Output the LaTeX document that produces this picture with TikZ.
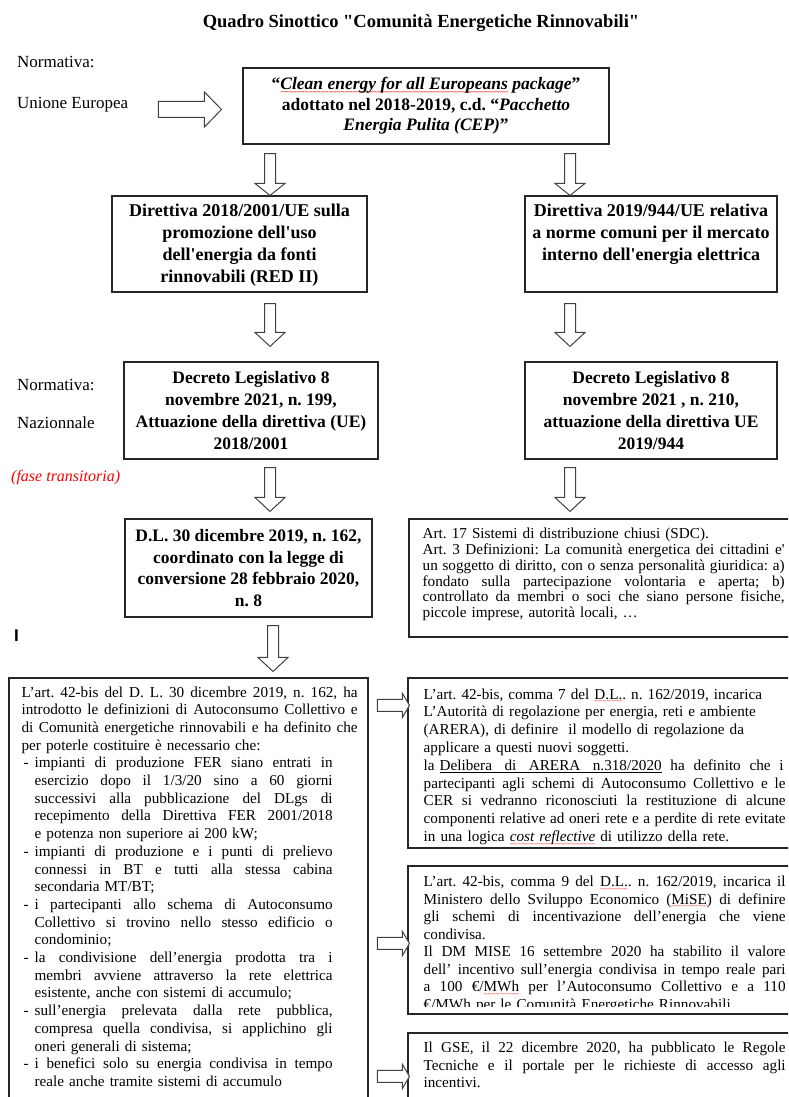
\documentclass[tikz,border=0pt]{standalone}
\usepackage{fontspec}
\setmainfont{Liberation Serif}[Ligatures=TeXOff]
\setsansfont{Liberation Sans}
\usetikzlibrary{calc,positioning}

% red spell-check wave under a word
\newsavebox\rwbox
\newcommand\rw[1]{\leavevmode\sbox\rwbox{#1}%
  \rlap{\raisebox{-4.5pt}[0pt][0pt]{\hbox to \wd\rwbox{\color{red}\xleaders\hbox{\fontsize{7}{7}\selectfont\textasciitilde}\hfill}}}%
  \usebox\rwbox}

% justified lines of the text boxes
\newcommand\fillline[2]{\leavevmode\hbox to #1{\spaceskip=0.25em plus 1fil minus 0.1em\relax #2}}
\newcommand\introline[1]{\fillline{336pt}{#1}}
\newcommand\itemline[1]{\makebox[13pt][l]{\hspace{2pt}-}\fillline{298pt}{#1}}
\newcommand\moreline[1]{\hspace*{13pt}\fillline{298pt}{#1}}
\newcommand\morelast[1]{\hspace*{13pt}#1}
\newcommand\rline[1]{\fillline{362pt}{#1}}

% hollow block arrows between the boxes
\newcommand\blockD[5]{%
  \draw[blockarrow] let \p1=(#1), \p2=(#2) in
    (\x1-#3,\y1) -- (\x1+#3,\y1) -- (\x1+#3,\y2+#5) -- (\x1+#4,\y2+#5) -- (\x1,\y2)
    -- (\x1-#4,\y2+#5) -- (\x1-#3,\y2+#5) -- cycle;}
\newcommand\blockR[5]{%
  \draw[blockarrow] let \p1=(#1), \p2=(#2) in
    (\x1,\y1-#3) -- (\x2-#5,\y1-#3) -- (\x2-#5,\y1-#4) -- (\x2,\y1)
    -- (\x2-#5,\y1+#4) -- (\x2-#5,\y1+#3) -- (\x1,\y1+#3) -- cycle;}

\begin{document}
\frenchspacing
\begin{tikzpicture}[x=1pt, y=-1pt,
    legbox/.style={draw=black!85, line width=1.1pt, inner sep=0pt},
    boldtxt/.style={align=center, font=\bfseries\fontsize{17.5}{22}\selectfont},
    dirtxt/.style={align=center, anchor=north, inner sep=0pt, font=\bfseries\fontsize{18}{22}\selectfont},
    bodytxt/.style={inner sep=0pt, align=left, anchor=north west, font=\fontsize{15.2}{17.7}\selectfont},
    lbl/.style={inner sep=0pt, anchor=west, font=\fontsize{17}{20}\selectfont},
    blockarrow/.style={draw=black!75, line width=1pt, fill=white}]
    \useasboundingbox (0,0) rectangle (788,1097);
    \clip (0,0) rectangle (788,1097);

    \node[font=\bfseries\fontsize{18.5}{22}\selectfont] (title) at (421,23) {Quadro Sinottico "Comunità Energetiche Rinnovabili"};

    % side labels
    \node[lbl] (norm1) at (17,62) {Normativa:};
    \node[lbl] (ue) at (17,105) {Unione Europea};
    \node[lbl] (norm2) at (17,385) {Normativa:};
    \node[lbl] (naz) at (17,423) {Nazionnale};
    \node[inner sep=0pt, anchor=west, text=red, font=\itshape\fontsize{16}{19}\selectfont] (fase) at (11,478) {(fase transitoria)};
    \node[inner sep=0pt, anchor=west, font=\sffamily\bfseries\fontsize{17}{20}\selectfont] (cursor) at (14,636) {I};

    % European level
    \node[legbox, boldtxt, minimum width=366pt, minimum height=76pt, font=\bfseries\fontsize{17.5}{20.5}\selectfont] (top) at (426,106)
        {“\textit{\rw{Clean energy for all Europeans} package}”\\
         adottato nel 2018-2019, c.d. “\textit{Pacchetto}\\
         \textit{Energia Pulita (CEP)}”};
    \node[legbox, minimum width=255pt, minimum height=96pt] (dirL) at (239.5,244) {};
    \node[dirtxt] (dirLtxt) at ([yshift=-5pt]dirL.north)
        {\strut Direttiva 2018/2001/UE sulla\\ promozione dell'uso\\ dell'energia da fonti\\ rinnovabili (RED II)};
    \node[legbox, minimum width=252pt, minimum height=96pt] (dirR) at (651,244) {};
    \node[dirtxt] (dirRtxt) at ([yshift=-5pt]dirR.north)
        {\strut Direttiva 2019/944/UE relativa\\ a norme comuni per il mercato\\ interno dell'energia elettrica};

    % national level
    \node[legbox, boldtxt, minimum width=254pt, minimum height=97pt] (decL) at (251,410.5)
        {Decreto Legislativo 8\\ novembre 2021, n. 199,\\ Attuazione della direttiva (UE)\\ 2018/2001};
    \node[legbox, boldtxt, minimum width=252pt, minimum height=97pt] (decR) at (651,410.5)
        {Decreto Legislativo 8\\ novembre 2021 , n. 210,\\ attuazione della direttiva UE\\ 2019/944};
    \node[legbox, boldtxt, minimum width=247pt, minimum height=98pt, font=\bfseries\fontsize{17.5}{21.5}\selectfont] (dl) at (248.5,568)
        {D.L. 30 dicembre 2019, n. 162,\\ coordinato con la legge di\\ conversione 28 febbraio 2020,\\ n. 8};

    \node[legbox, minimum width=382pt, minimum height=118pt] (art) at (600,578) {};
    \node[bodytxt, text width=364pt, font=\fontsize{15.2}{15.8}\selectfont] (arttxt) at ([shift={(14,9)}]art.north west)
        {\strut Art. 17 Sistemi di distribuzione chiusi (SDC).\\
         \rline{Art. 3 Definizioni: La comunità energetica dei cittadini e'}\\
         \rline{un soggetto di diritto, con o senza personalità giuridica: a)}\\
         \rline{fondato sulla partecipazione volontaria e aperta; b)}\\
         \rline{controllato da membri o soci che siano persone fisiche,}\\
         piccole imprese, autorità locali, …};

    % art. 42-bis
    \node[legbox, minimum width=359pt, minimum height=442pt] (big) at (188.5,899) {};
    \node[bodytxt, text width=340pt] (bigtxt) at ([shift={(13,7)}]big.north west)
        {\strut\introline{L’art. 42-bis del D. L. 30 dicembre 2019, n. 162, ha}\\
         \introline{introdotto le definizioni di Autoconsumo Collettivo e}\\
         \introline{di Comunità energetiche rinnovabili e ha definito che}\\
         per poterle costituire è necessario che:\\
         \itemline{impianti di produzione FER siano entrati in}\\
         \moreline{esercizio dopo il 1/3/20 sino a 60 giorni}\\
         \moreline{successivi alla pubblicazione del DLgs di}\\
         \moreline{recepimento della Direttiva FER 2001/2018}\\
         \morelast{e potenza non superiore ai 200 kW;}\\
         \itemline{impianti di produzione e i punti di prelievo}\\
         \moreline{connessi in BT e tutti alla stessa cabina}\\
         \morelast{secondaria MT/BT;}\\
         \itemline{i partecipanti allo schema di Autoconsumo}\\
         \moreline{Collettivo si trovino nello stesso edificio o}\\
         \morelast{condominio;}\\
         \itemline{la condivisione dell’energia prodotta tra i}\\
         \moreline{membri avviene attraverso la rete elettrica}\\
         \morelast{esistente, anche con sistemi di accumulo;}\\
         \itemline{sull’energia prelevata dalla rete pubblica,}\\
         \moreline{compresa quella condivisa, si applichino gli}\\
         \morelast{oneri generali di sistema;}\\
         \itemline{i benefici solo su energia condivisa in tempo}\\
         \morelast{reale anche tramite sistemi di accumulo}};

    \node[legbox, minimum width=383pt, minimum height=170pt] (r1) at (599.5,763) {};
    \node[bodytxt, text width=364pt, font=\fontsize{15.2}{17.8}\selectfont] (r1txt) at ([shift={(16,9)}]r1.north west)
        {\strut L’art. 42-bis, comma 7 del \rw{D.L.}. n. 162/2019, incarica\\
         L’Autorità di regolazione per energia, reti e ambiente\\
         (ARERA), di definire\ \ il modello di regolazione da\\
         applicare a questi nuovi soggetti.\\
         la \underline{\hbox to 222pt{Delibera\hfil di\hfil ARERA\hfil n.318/2020}}\fillline{122pt}{\ ha definito che i}\\
         \rline{partecipanti agli schemi di Autoconsumo Collettivo e le}\\
         \rline{CER si vedranno riconosciuti la restituzione di alcune}\\
         \rline{componenti relative ad oneri rete e a perdite di rete evitate}\\
         in una logica \textit{\rw{cost reflective}} di utilizzo della rete.};

    \node[legbox, minimum width=383pt, minimum height=148pt] (r2) at (599.5,940) {};
    \begin{scope}
        \clip (r2.north west) rectangle ([yshift=8pt]r2.south east);
        \node[bodytxt, text width=364pt, font=\fontsize{15.2}{17.5}\selectfont] (r2txt) at ([shift={(16,9)}]r2.north west)
            {\strut\rline{L’art. 42-bis, comma 9 del \rw{D.L.}. n. 162/2019, incarica il}\\
             \rline{Ministero dello Sviluppo Economico (\rw{MiSE}) di definire}\\
             \rline{gli schemi di incentivazione dell’energia che viene}\\
             condivisa.\\
             \rline{Il DM MISE 16 settembre 2020 ha stabilito il valore}\\
             \rline{dell’ incentivo sull’energia condivisa in tempo reale pari}\\
             \rline{a 100 €/\rw{MWh} per l’Autoconsumo Collettivo e a 110}\\
             €/MWh per le Comunità Energetiche Rinnovabili};
    \end{scope}

    \node[legbox, minimum width=383pt, minimum height=87pt] (r3) at (599.5,1076.5) {};
    \node[bodytxt, text width=364pt, font=\fontsize{15.2}{17.5}\selectfont] (r3txt) at ([shift={(16,8)}]r3.north west)
        {\strut\rline{Il GSE, il 22 dicembre 2020, ha pubblicato le Regole}\\
         \rline{Tecniche e il portale per le richieste di accesso agli}\\
         incentivi.};

    % arrows
    \coordinate (colL) at (270,0);
    \coordinate (colR) at (570,0);
    \coordinate (colD) at (273,0);
    \blockR{$(top.west)+(-84,3.5)$}{$(top.west)+(-21,3.5)$}{8pt}{17.5pt}{17pt}
    \blockD{$(top.south -| colL)+(0,9)$}{dirL.north -| colL}{5.5pt}{15pt}{12pt}
    \blockD{$(top.south -| colR)+(0,9)$}{dirR.north -| colR}{5.5pt}{15pt}{12pt}
    \blockD{$(dirL.south -| colL)+(0,11)$}{$(decL.north -| colL)+(0,-15)$}{5.5pt}{15pt}{14pt}
    \blockD{$(dirR.south -| colR)+(0,11)$}{$(decR.north -| colR)+(0,-15)$}{5.5pt}{15pt}{14pt}
    \blockD{$(decL.south -| colL)+(0,8)$}{$(dl.north -| colL)+(0,-7)$}{5.5pt}{15pt}{14pt}
    \blockD{$(decR.south -| colR)+(0,8)$}{$(art.north -| colR)+(0,-7)$}{5.5pt}{15pt}{14pt}
    \blockD{$(dl.south -| colD)+(0,8)$}{$(big.north -| colD)+(0,-6)$}{5.5pt}{15pt}{14pt}
    \blockR{$(r1.north west)+(-30,28)$}{$(r1.north west)+(2,28)$}{6pt}{12pt}{7pt}
    \blockR{$(r2.north west)+(-30,78)$}{$(r2.north west)+(2,78)$}{6pt}{12pt}{7pt}
    \blockR{$(r3.north west)+(-30,44)$}{$(r3.north west)+(2,44)$}{6pt}{12pt}{7pt}
\end{tikzpicture}
\end{document}
